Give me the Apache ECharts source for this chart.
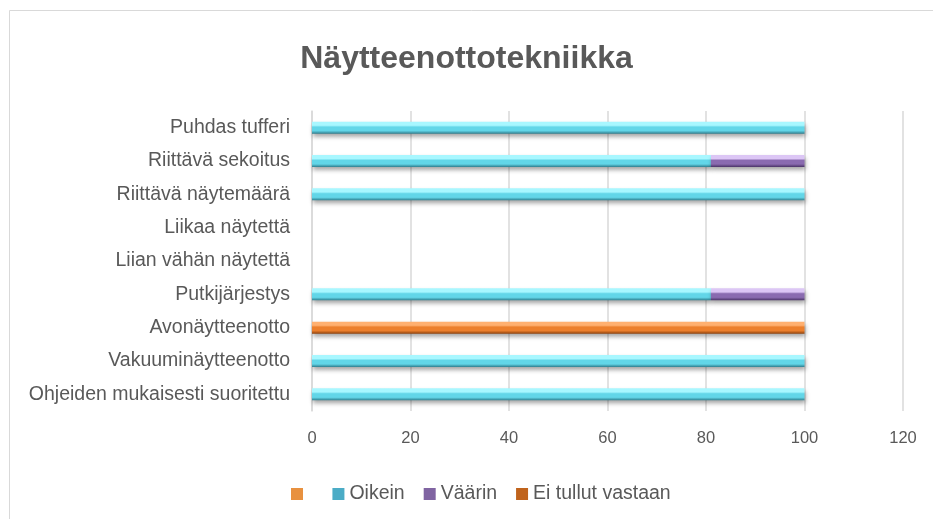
<!DOCTYPE html>
<html>
<head>
<meta charset="utf-8">
<script src="https://cdn.jsdelivr.net/npm/echarts@6/dist/echarts.min.js"></script>
<style>
  html, body { margin: 0; padding: 0; background: #fff; }
  #chart { width: 933px; height: 519px; }
</style>
</head>
<body>
<div id="chart"></div>
<script>
// data (bottom row first, as in ECharts category order)
const categories = [
  'Ohjeiden mukaisesti suoritettu',
  'Vakuuminäytteenotto',
  'Avonäytteenotto',
  'Putkijärjestys',
  'Liian vähän näytettä',
  'Liikaa näytettä',
  'Riittävä näytemäärä',
  'Riittävä sekoitus',
  'Puhdas tufferi'
];
const blankValues = [0, 0, 0, 0, 0, 0, 0, 0, 0];
const oikeinValues = [100, 100, 0, 81, 0, 0, 100, 81, 100];
const vaarinValues = [0, 0, 0, 19, 0, 0, 0, 19, 0];
const eiTullutValues = [0, 0, 100, 0, 0, 0, 0, 0, 0];
const xTicks = [0, 20, 40, 60, 80, 100, 120];

const font = '"Liberation Sans", Arial, sans-serif';

// bevel look: light top edge, dark bottom edge
const bevel = (light, mid, dark) => new echarts.graphic.LinearGradient(0, 0, 0, 1, [
  { offset: 0, color: light },
  { offset: 0.3, color: light },
  { offset: 0.45, color: mid },
  { offset: 0.75, color: mid },
  { offset: 1, color: dark }
]);

const makeSeries = (name, values, light, mid, dark, legendColor) => ({
  name: name,
  type: 'bar',
  stack: 'total',
  barWidth: 12,
  data: values,
  itemStyle: {
    color: bevel(light, mid, dark),
    shadowColor: 'rgba(0,0,0,0.35)',
    shadowBlur: 4,
    shadowOffsetY: 3,
    shadowOffsetX: 1
  },
  emphasis: { disabled: true },
  legendColor: legendColor
});

const seriesList = [
  makeSeries(' ', blankValues, '#ffc48f', '#f79646', '#b35f1c', '#e8913f'),
  makeSeries('Oikein', oikeinValues, '#a8f7ff', '#62d6e8', '#2f7d8d', '#4bacc6'),
  makeSeries('Väärin', vaarinValues, '#dcc6f5', '#8a6bb0', '#4a3366', '#8064a2'),
  makeSeries('Ei tullut vastaan', eiTullutValues, '#ffb070', '#ec7f2c', '#8f420c', '#c0631c')
];

const chart = echarts.init(document.getElementById('chart'), null, { renderer: 'canvas' });

chart.setOption({
  animation: false,
  backgroundColor: '#fff',
  title: {
    text: 'Näytteenottotekniikka',
    left: 'center',
    top: 38,
    textStyle: {
      fontFamily: font,
      fontWeight: 'bold',
      fontSize: 32,
      color: '#595959'
    }
  },
  graphic: [{
    type: 'rect',
    shape: { x: 9.5, y: 10.5, width: 940, height: 520 },
    style: { fill: 'none', stroke: '#d9d9d9', lineWidth: 1 },
    silent: true
  }],
  legend: {
    left: 286,
    top: 479,
    itemWidth: 12,
    itemHeight: 12,
    itemGap: 19,
    icon: 'rect',
    data: seriesList.map(s => ({ name: s.name, itemStyle: { color: s.legendColor } })),
    textStyle: { fontFamily: font, fontSize: 19.5, color: '#595959' }
  },
  grid: { left: 312, right: 30, top: 111, bottom: 108, containLabel: false, outerBoundsMode: 'none' },
  xAxis: {
    type: 'value',
    min: 0,
    max: 120,
    interval: 20,
    axisLine: { show: false },
    axisTick: { show: false },
    axisLabel: {
      fontFamily: font,
      fontSize: 16.5,
      color: '#595959',
      margin: 19,
      formatter: v => (xTicks.indexOf(v) >= 0 ? String(v) : '')
    },
    splitLine: { show: true, lineStyle: { color: '#d9d9d9', width: 1.5 } }
  },
  yAxis: {
    type: 'category',
    data: categories,
    axisLine: { show: true, lineStyle: { color: '#d9d9d9', width: 1.5 } },
    axisTick: { show: false },
    axisLabel: {
      fontFamily: font,
      fontSize: 19.5,
      color: '#595959',
      margin: 22
    }
  },
  series: seriesList.map(({ legendColor, ...s }) => s)
});
</script>
</body>
</html>
